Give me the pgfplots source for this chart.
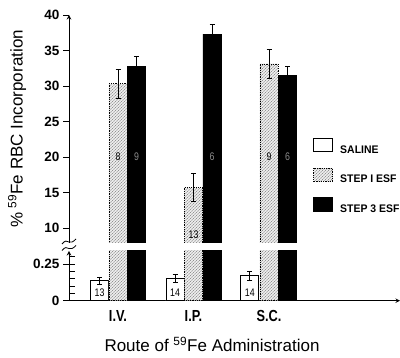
\documentclass[border=0pt]{standalone}
\usepackage{fontspec}
\setmainfont{Liberation Sans}
\newfontfamily\cond{Liberation Sans}[FakeStretch=0.8]
\newfontfamily\legf{Liberation Sans}[FakeStretch=0.95]
\usepackage{pgfplots}
\pgfplotsset{compat=1.18}
\usetikzlibrary{patterns}

\pgfplotsset{
  myleg/.style={legend image code/.code={\draw[##1, line width=1.1pt] (0pt,-1.5pt) rectangle (19pt,11.5pt);}},
  salinestyle/.style={fill=white, draw=black, line width=0.8pt},
  step1style/.style={fill=black!8, draw=black, line width=0.8pt, densely dotted, postaction={pattern=north east lines, pattern color=black!55}},
  step3style/.style={fill=black, draw=black, line width=0.8pt},
  errs/.style={error bars/.cd, y dir=both, y explicit, error bar style={line width=0.7pt, solid, black}, error mark options={rotate=90, mark size=2.5pt, line width=0.7pt, solid, black}},
  common/.style={scale only axis, width=331pt, xmin=-0.649, xmax=3.735,
    clip mode=individual,
    axis line style={-, line width=1pt},
    tick style={line width=0.8pt, black},
    yticklabel style={font=\bfseries\fontsize{13.5}{14}\selectfont},
    /pgf/number format/assume math mode=true},
}

\begin{document}
\begin{tikzpicture}
\useasboundingbox (0pt,0pt) rectangle (400pt,358pt);

% upper part of the broken axis
\begin{axis}[common,
  at={(69pt,115pt)}, anchor=south west, height=228pt,
  ymin=7.89, ymax=40,
  axis x line=none, axis y line=left,
  ytick={10,15,20,25,30,35,40},
  tick align=outside, major tick length=6pt,
  legend style={at={(0.737,0.4605)}, anchor=north west, draw=none, fill=none,
    inner sep=0pt, font=\legf\bfseries\fontsize{11}{11}\selectfont, row sep=11pt,
    /tikz/every odd column/.append style={column sep=5pt}},
  legend cell align=left,
]
\addlegendimage{salinestyle, myleg}
\addlegendentry{SALINE}
\addplot[ybar, bar width=0.24, bar shift=0pt, step1style, myleg, errs]
  coordinates {(0,30.3) +- (0,2.0) (1,15.7) +- (0,2.0) (2,33.1) +- (0,2.0)};
\addlegendentry{STEP I ESF}
\addplot[ybar, bar width=0.24, bar shift=0pt, step3style, myleg, errs]
  coordinates {(0.245,32.7) +- (0,1.5) (1.245,37.3) +- (0,1.4) (2.245,31.5) +- (0,1.3)};
\addlegendentry{STEP 3 ESF}
\node[font=\cond\fontsize{11}{11}\selectfont] at (axis cs:0,20) {8};
\node[font=\cond\fontsize{11}{11}\selectfont, text=black!45] at (axis cs:0.245,20) {9};
\node[font=\cond\fontsize{11}{11}\selectfont] at (axis cs:1,9.1) {13};
\node[font=\cond\fontsize{11}{11}\selectfont, text=black!45] at (axis cs:1.245,20) {6};
\node[font=\cond\fontsize{11}{11}\selectfont] at (axis cs:2,20) {9};
\node[font=\cond\fontsize{11}{11}\selectfont, text=black!45] at (axis cs:2.245,20) {6};
\end{axis}

% lower part of the broken axis
\begin{axis}[common,
  at={(69pt,57.3pt)}, anchor=south west, height=49.7pt,
  ymin=0, ymax=0.3386,
  axis x line=bottom, axis y line=left,
  xtick=\empty,
  ytick={0,0.25}, yticklabels={0,0.25},
  tick align=center, major tick length=12pt,
  extra y ticks={0.05,0.1,0.15,0.2,0.3},
  extra y tick labels={},
  extra y tick style={tick align=inside, major tick length=6pt},
]
\addplot[ybar, bar width=0.24, bar shift=0pt, salinestyle, errs]
  coordinates {(-0.245,0.137) +- (0,0.025) (0.755,0.150) +- (0,0.027) (1.745,0.170) +- (0,0.030)};
\addplot[ybar, bar width=0.24, bar shift=0pt, step1style, errs]
  coordinates {(0,30.3) +- (0,2.0) (1,15.7) +- (0,2.0) (2,33.1) +- (0,2.0)};
\addplot[ybar, bar width=0.24, bar shift=0pt, step3style, errs]
  coordinates {(0.245,32.7) +- (0,1.5) (1.245,37.3) +- (0,1.4) (2.245,31.5) +- (0,1.3)};
\node[font=\cond\fontsize{11}{11}\selectfont] at (axis cs:-0.245,0.055) {13};
\node[font=\cond\fontsize{11}{11}\selectfont] at (axis cs:0.755,0.055) {14};
\node[font=\cond\fontsize{11}{11}\selectfont] at (axis cs:1.745,0.055) {14};
\node[font=\cond\bfseries\fontsize{16}{16}\selectfont, anchor=base] at (axis cs:0,0) [yshift=-21.3pt] {I.V.};
\node[font=\cond\bfseries\fontsize{16}{16}\selectfont, anchor=base] at (axis cs:1,0) [yshift=-21.3pt] {I.P.};
\node[font=\cond\bfseries\fontsize{16}{16}\selectfont, anchor=base] at (axis cs:2,0) [yshift=-21.3pt] {S.C.};
\end{axis}

% axis break marks
\draw[line width=0.8pt] (62pt,114pt) .. controls (65pt,118pt) and (67pt,117pt) .. (69pt,116pt) .. controls (71pt,115pt) and (73pt,116pt) .. (76pt,119pt);
\draw[line width=0.8pt] (62pt,107.5pt) .. controls (65pt,111.5pt) and (67pt,110.5pt) .. (69pt,109.5pt) .. controls (71pt,108.5pt) and (73pt,109.5pt) .. (76pt,112.5pt);

% axis titles
\node[rotate=90, font=\fontsize{17}{17}\selectfont] at (17pt,229pt) {\%\ \textsuperscript{59}Fe RBC Incorporation};
\node[anchor=base, font=\fontsize{17}{17}\selectfont] at (212pt,6pt) {Route of \textsuperscript{59}Fe Administration};
\end{tikzpicture}
\end{document}
